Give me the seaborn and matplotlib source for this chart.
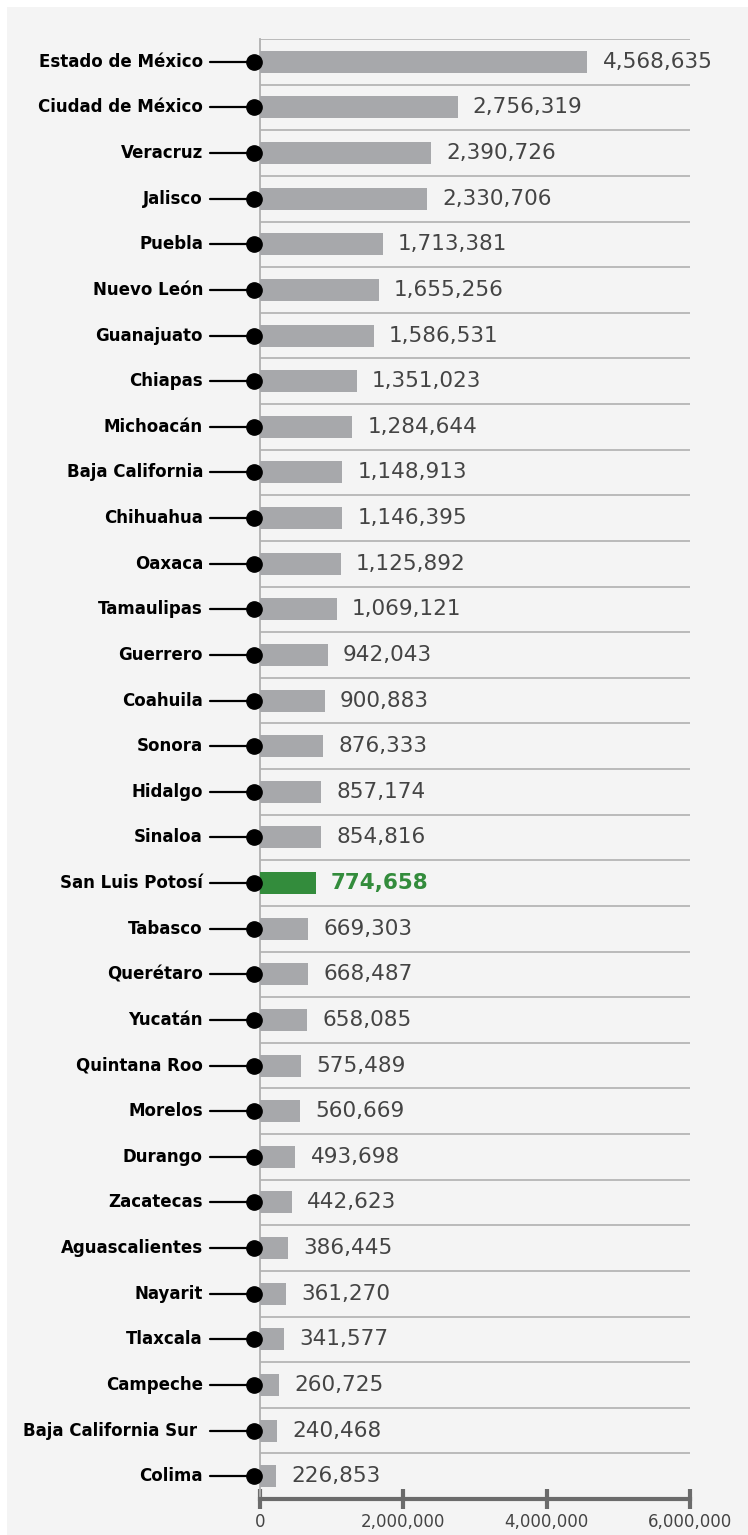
import matplotlib
matplotlib.use('Agg')
import matplotlib.pyplot as plt
import matplotlib.transforms as mtransforms
from matplotlib.patches import Rectangle
from matplotlib.ticker import FuncFormatter
import pandas as pd
import seaborn as sns

# datos: población por entidad
estados = ['Estado de México', 'Ciudad de México', 'Veracruz', 'Jalisco', 'Puebla',
           'Nuevo León', 'Guanajuato', 'Chiapas', 'Michoacán', 'Baja California',
           'Chihuahua', 'Oaxaca', 'Tamaulipas', 'Guerrero', 'Coahuila', 'Sonora',
           'Hidalgo', 'Sinaloa', 'San Luis Potosí', 'Tabasco', 'Querétaro', 'Yucatán',
           'Quintana Roo', 'Morelos', 'Durango', 'Zacatecas', 'Aguascalientes',
           'Nayarit', 'Tlaxcala', 'Campeche', 'Baja California Sur ', 'Colima']
poblacion = [4568635, 2756319, 2390726, 2330706, 1713381, 1655256, 1586531, 1351023,
             1284644, 1148913, 1146395, 1125892, 1069121, 942043, 900883, 876333,
             857174, 854816, 774658, 669303, 668487, 658085, 575489, 560669, 493698,
             442623, 386445, 361270, 341577, 260725, 240468, 226853]
destacado = 'San Luis Potosí'
x_ticks = [0, 2000000, 4000000, 6000000]

gris = '#a7a8ab'
verde = '#338c3c'

sns.set_style('white')
plt.rcParams['font.family'] = ['DejaVu Sans']

df = pd.DataFrame({'estado': estados, 'poblacion': poblacion})
paleta = {e: (verde if e == destacado else gris) for e in estados}

fig = plt.figure(figsize=(7.48, 15.35), dpi=100)
fig.patch.set_facecolor('white')
# panel de fondo
W, H = 748, 1535
fig.patches.append(Rectangle((7 / W, 0), 1, (H - 7) / H, transform=fig.transFigure,
                             facecolor='#f4f4f4', edgecolor='none', zorder=-10))

ax = fig.add_axes([260 / W, 1 - 1499 / H, 430 / W, 1460 / H])
ax.set_facecolor('none')

sns.barplot(data=df, x='poblacion', y='estado', hue='estado', palette=paleta,
            legend=False, width=0.48, ax=ax, saturation=1, zorder=3,
            linewidth=0, edgecolor='none')

ax.set_xlim(0, 6000000)
ax.set_ylim(len(estados) - 0.5, -0.5)

# líneas entre filas
for i in range(len(estados)):
    ax.plot([0, 6000000], [i - 0.5, i - 0.5], color='#b5b5b5', lw=1.3, zorder=1,
            solid_capstyle='butt')

for s in ['top', 'right']:
    ax.spines[s].set_visible(False)
ax.spines['left'].set_color('#b0b0b0')
ax.spines['left'].set_linewidth(1.3)
ax.spines['bottom'].set_color('#6b6b6b')
ax.spines['bottom'].set_linewidth(3)
ax.spines['bottom'].set_zorder(5)

ax.set_xticks(x_ticks)
ax.xaxis.set_major_formatter(FuncFormatter(lambda v, p: f'{int(v):,}'))
ax.tick_params(axis='x', bottom=True, direction='inout', length=14, width=3,
               color='#6b6b6b', labelsize=12, labelcolor='#444444', pad=3)
ax.set_yticks([])
ax.set_xlabel('')
ax.set_ylabel('')

# etiquetas con línea y punto
trans = mtransforms.blended_transform_factory(ax.transAxes, ax.transData)
for i, (e, v) in enumerate(zip(estados, poblacion)):
    ax.text(-0.1326, i, e, transform=trans, ha='right', va='center',
            fontsize=12, fontweight='bold', color='black', clip_on=False)
    ax.plot([-0.116, -0.014], [i, i], transform=trans, color='black', lw=1.6,
            clip_on=False, zorder=6)
    ax.plot([-0.014], [i], transform=trans, marker='o', markersize=11, color='black',
            clip_on=False, zorder=7)
    if e == destacado:
        ax.annotate(f'{v:,}', (v, i), xytext=(11, 0), textcoords='offset points',
                    ha='left', va='center', fontsize=15.5, fontweight='bold', color=verde)
    else:
        ax.annotate(f'{v:,}', (v, i), xytext=(11, 0), textcoords='offset points',
                    ha='left', va='center', fontsize=15.5, color='#444444')

fig.savefig('out.png', dpi=100)
